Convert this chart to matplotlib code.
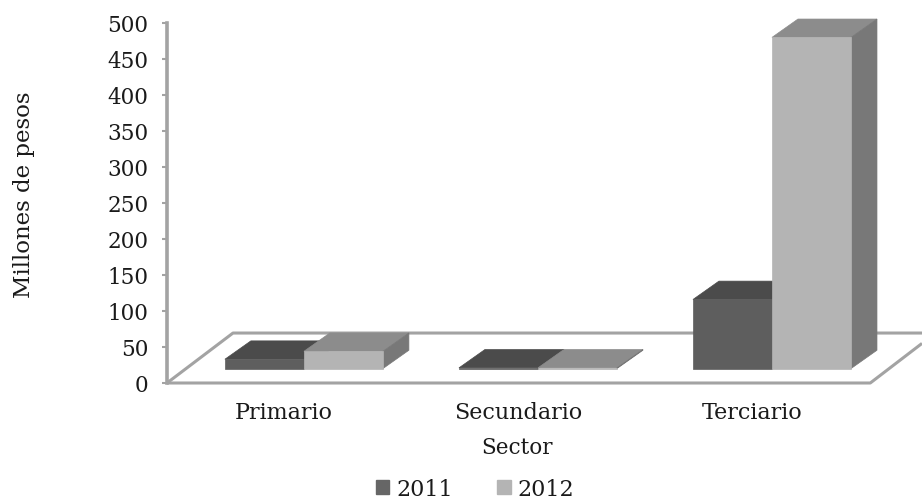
import matplotlib.pyplot as plt
from matplotlib.patches import Patch, Polygon

categories = ['Primario', 'Secundario', 'Terciario']
years = ['2011', '2012']
valores_2011 = [13, 1, 96]
valores_2012 = [24, 1, 460]
yticks = list(range(0, 501, 50))

plt.rcParams['font.family'] = ['DejaVu Serif']
GRIS = '#a3a3a3'
TEXTO = '#1a1a1a'

fig = plt.figure(figsize=(9.22, 5.02), dpi=100)
ax = fig.add_axes([167 / 922, (502 - 384) / 502, (922 - 167) / 922, 360 / 502])
ax.set_xlim(-0.585, 2.641)
ax.set_ylim(0, 500)

# profundidad del efecto 3D, en unidades de los ejes
ancho = 0.3376
dx = 0.111
dy = 25.5
base = 20


def barra(x0, valor, frente, arriba, lado):
    x1 = x0 + ancho
    y0 = base
    y1 = base + valor
    ax.add_patch(Polygon([(x0, y1), (x0 + dx, y1 + dy), (x1 + dx, y1 + dy), (x1, y1)],
                         fc=arriba, ec=arriba, lw=0.5, clip_on=False, zorder=3))
    ax.add_patch(Polygon([(x1, y0), (x1 + dx, y0 + dy), (x1 + dx, y1 + dy), (x1, y1)],
                         fc=lado, ec=lado, lw=0.5, clip_on=False, zorder=3))
    ax.add_patch(Polygon([(x0, y0), (x1, y0), (x1, y1), (x0, y1)],
                         fc=frente, ec=frente, lw=0.5, clip_on=False, zorder=4))


# piso del grafico
fondo = 69.4
ax.plot([-0.585, -0.585 + 0.282, 2.641], [0, fondo, fondo], color=GRIS, lw=2.2, zorder=1,
        clip_on=False, solid_capstyle='butt')
ax.plot([-0.585, 2.42, 2.641], [0, 0, 55], color=GRIS, lw=2.2, zorder=1, clip_on=False,
        solid_capstyle='butt')

# se dibuja de atras hacia adelante, la barra clara tapa a la oscura
for i in range(len(categories)):
    barra(i - ancho, valores_2011[i], '#5e5e5e', '#4b4b4b', '#4b4b4b')
    barra(i, valores_2012[i], '#b4b4b4', '#8c8c8c', '#787878')

ax.set_yticks(yticks)
ax.set_xticks([i - 0.085 for i in range(len(categories))], categories)
ax.tick_params(axis='y', labelsize=15.5, length=3.5, width=1.5, color=GRIS, pad=10, labelcolor=TEXTO)
ax.tick_params(axis='x', labelsize=16, length=0, pad=13, labelcolor=TEXTO)

for lado_eje in ['top', 'right', 'bottom']:
    ax.spines[lado_eje].set_visible(False)
ax.spines['left'].set_color(GRIS)
ax.spines['left'].set_linewidth(2.6)
ax.patch.set_alpha(0)

fig.text(517 / 922, 1 - 448 / 502, 'Sector', fontsize=15.5, ha='center', va='center', color=TEXTO)
fig.text(24 / 922, 1 - 195 / 502, 'Millones de pesos', fontsize=16.5, rotation=90,
         ha='center', va='center', color=TEXTO)

handles = [Patch(color='#666666'), Patch(color='#b4b4b4')]
fig.legend(handles, years, ncol=2, loc='center', bbox_to_anchor=(475 / 922, 1 - 490 / 502),
           frameon=False, fontsize=16, handlelength=0.62, handleheight=0.62,
           handletextpad=0.3, columnspacing=2.0, borderpad=0, labelcolor=TEXTO)

fig.savefig('out.png', dpi=100)
